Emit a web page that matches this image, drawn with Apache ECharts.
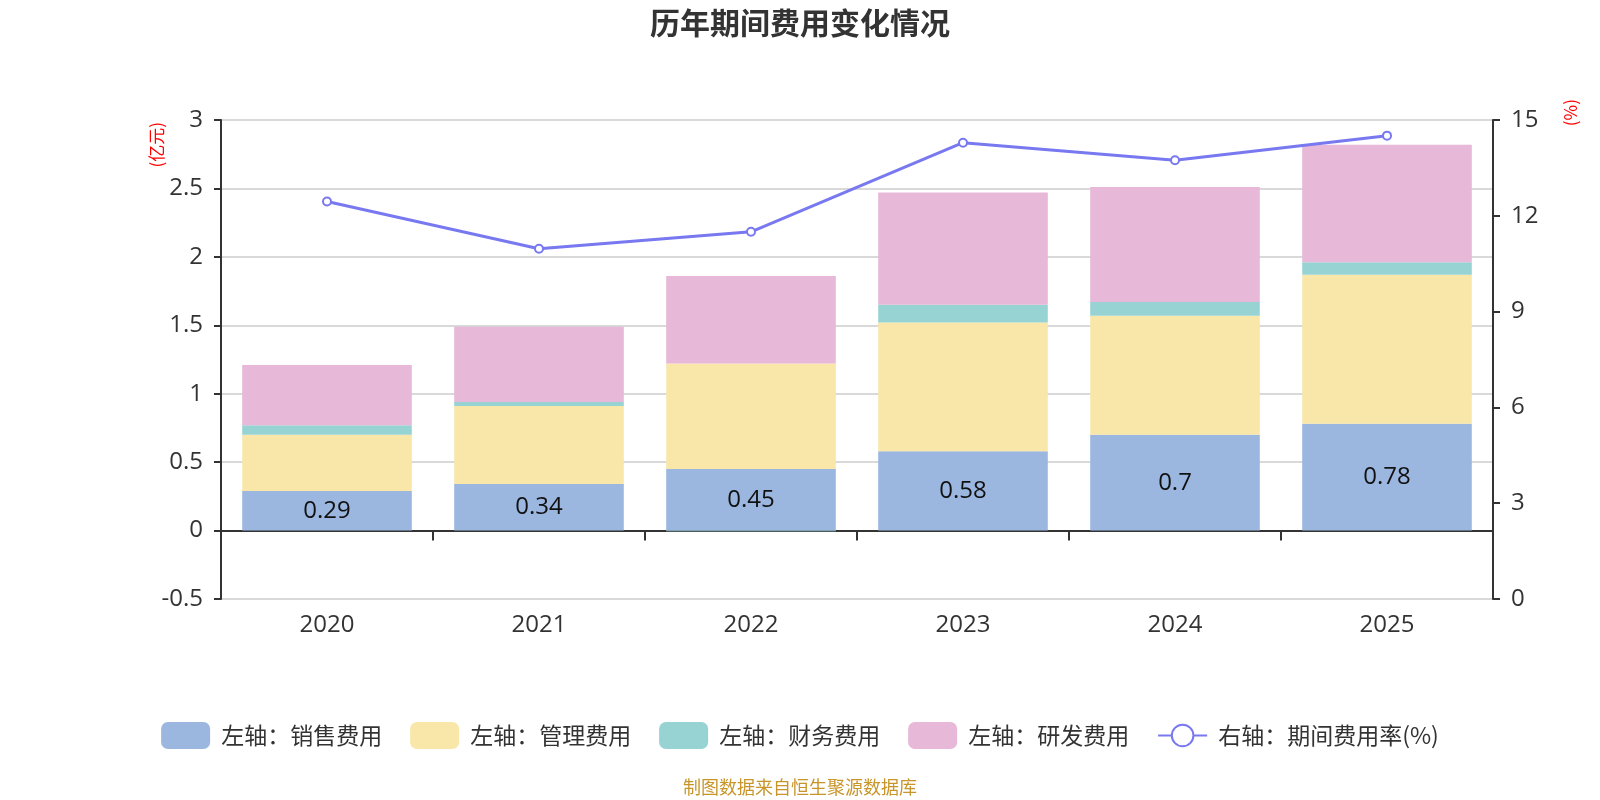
<!DOCTYPE html>
<html>
<head>
<meta charset="utf-8">
<script src="https://cdn.jsdelivr.net/npm/echarts@6/dist/echarts.min.js"></script>
<style>html,body{margin:0;padding:0;background:#fff;}#main{width:1600px;height:800px;}</style>
</head>
<body>
<div id="main"></div>
<script>
const categories = ['2020', '2021', '2022', '2023', '2024', '2025'];
const salesExpense = [0.29, 0.34, 0.45, 0.58, 0.70, 0.78];
const adminExpense = [0.41, 0.57, 0.77, 0.94, 0.87, 1.09];
const financeExpense = [0.07, 0.03, -0.005, 0.13, 0.10, 0.09];
const rdExpense = [0.44, 0.55, 0.64, 0.82, 0.84, 0.86];
const expenseRate = [12.45, 10.97, 11.5, 14.29, 13.74, 14.51];
const seriesNames = ['左轴：销售费用', '左轴：管理费用', '左轴：财务费用', '左轴：研发费用', '右轴：期间费用率(%)'];

const FONT = '"Noto Sans CJK SC", "Noto Sans", sans-serif';
const NUMFONT = '"Open Sans", "Noto Sans CJK SC", sans-serif';
const chart = echarts.init(document.getElementById('main'), null, {renderer: 'canvas'});
const barItem = (color) => ({color: color});
const option = {
  animation: false,
  textStyle: {fontFamily: FONT},
  title: {
    text: '历年期间费用变化情况',
    left: 'center', top: 3,
    textStyle: {fontSize: 30, fontWeight: 'bold', color: '#333', fontFamily: FONT}
  },
  legend: {
    bottom: 46, left: 'center',
    itemWidth: 49, itemHeight: 27, itemGap: 28,
    textStyle: {fontSize: 23, color: '#333', fontFamily: FONT, padding: [0, 0, 0, 6]},
    data: [
      {name: seriesNames[0], icon: 'roundRect'},
      {name: seriesNames[1], icon: 'roundRect'},
      {name: seriesNames[2], icon: 'roundRect'},
      {name: seriesNames[3], icon: 'roundRect'},
      {name: seriesNames[4]}
    ]
  },
  graphic: [
    {type: 'text', left: 148, top: 122, rotation: Math.PI / 2,
     style: {text: '(亿元)', fill: '#ff0000', font: '17px ' + FONT}},
    {type: 'text', left: 1562, top: 99, rotation: Math.PI / 2,
     style: {text: '(%)', fill: '#ff0000', font: '17px ' + FONT}},
    {type: 'text', left: 'center', top: 778,
     style: {text: '制图数据来自恒生聚源数据库', fill: '#c8952a', font: '18px ' + FONT}}
  ],
  grid: {left: 221, right: 107, top: 120, bottom: 201, containLabel: false},
  xAxis: [
    {
      type: 'category', data: categories, position: 'bottom',
      axisLine: {show: false, onZero: false},
      axisTick: {show: false},
      axisLabel: {fontSize: 24, color: '#333', margin: 14, fontFamily: NUMFONT},
      splitLine: {show: false}
    },
    {
      type: 'category', data: categories, position: 'bottom',
      axisLine: {show: true, onZero: true, onZeroAxisIndex: 0, lineStyle: {color: '#333', width: 2}},
      axisTick: {show: true, length: 10, lineStyle: {color: '#333', width: 2}},
      axisLabel: {show: false},
      splitLine: {show: false}
    }
  ],
  yAxis: [
    {
      type: 'value', min: -0.5, max: 3, interval: 0.5, position: 'left',
      axisLine: {show: true, onZero: false, lineStyle: {color: '#333', width: 2}},
      axisTick: {show: true, length: 7, lineStyle: {color: '#333', width: 2}},
      axisLabel: {fontSize: 24, color: '#333', margin: 18, fontFamily: NUMFONT},
      splitLine: {show: true, lineStyle: {color: '#ccc', width: 1.5}}
    },
    {
      type: 'value', min: 0, max: 15, interval: 3, position: 'right',
      axisLine: {show: true, onZero: false, lineStyle: {color: '#333', width: 2}},
      axisTick: {show: true, length: 7, lineStyle: {color: '#333', width: 2}},
      axisLabel: {fontSize: 24, color: '#333', margin: 18, fontFamily: NUMFONT},
      splitLine: {show: false}
    }
  ],
  series: [
    {name: seriesNames[0], type: 'bar', stack: 'total', barWidth: '80%', data: salesExpense,
     itemStyle: barItem('#9bb7e0'),
     label: {show: true, position: 'inside', fontSize: 24, color: '#111', fontFamily: NUMFONT}},
    {name: seriesNames[1], type: 'bar', stack: 'total', barWidth: '80%', data: adminExpense,
     itemStyle: barItem('#f8e7a9')},
    {name: seriesNames[2], type: 'bar', stack: 'total', barWidth: '80%', data: financeExpense,
     itemStyle: barItem('#98d3d4')},
    {name: seriesNames[3], type: 'bar', stack: 'total', barWidth: '80%', data: rdExpense,
     itemStyle: barItem('#e7b8d7')},
    {name: seriesNames[4], type: 'line', yAxisIndex: 1, data: expenseRate,
     symbol: 'emptyCircle', symbolSize: 8,
     lineStyle: {color: '#7878f0', width: 3},
     itemStyle: {color: '#7878f0', borderWidth: 2}}
  ]
};
chart.setOption(option);
</script>
</body>
</html>
